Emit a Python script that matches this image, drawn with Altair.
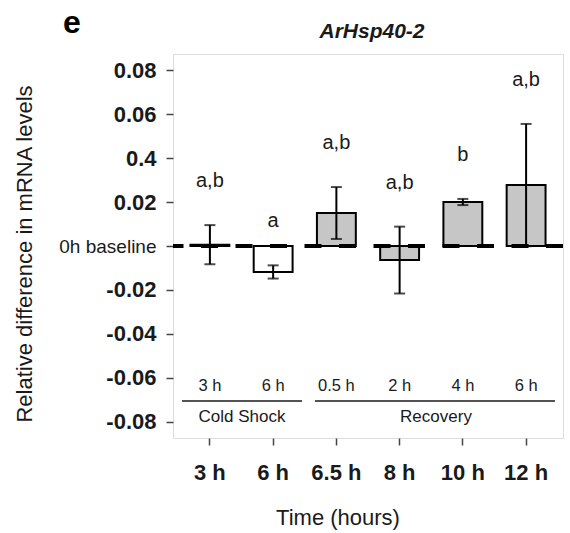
import altair as alt
import pandas as pd

# ---- data ----
times = ["3 h", "6 h", "6.5 h", "8 h", "10 h", "12 h"]
means = [0.0006, -0.0118, 0.0150, -0.0064, 0.0200, 0.0277]
errors = [0.0089, 0.0030, 0.0118, 0.0152, 0.0014, 0.0278]
letters = ["a,b", "a", "a,b", "a,b", "b", "a,b"]
phase_times = ["3 h", "6 h", "0.5 h", "2 h", "4 h", "6 h"]
phases = ["Cold Shock", "Recovery"]
y_ticks = [-0.08, -0.06, -0.04, -0.02, 0.0, 0.02, 0.04, 0.06, 0.08]

df = pd.DataFrame({
    "time": times,
    "mean": means,
    "err": errors,
    "letter": letters,
    "phase_time": phase_times,
})
df["lo"] = df["mean"] - df["err"]
df["hi"] = df["mean"] + df["err"]

FONT = "Liberation Sans"
TXT = "#1a1a1a"

x_enc = alt.X(
    "time:N",
    sort=times,
    scale=alt.Scale(paddingInner=0.385, paddingOuter=0.276),
    axis=alt.Axis(
        title=None, labelAngle=0, labelFont=FONT, labelFontSize=22,
        labelFontWeight="bold", labelColor=TXT, tickSize=7, tickWidth=1.5,
        tickColor="#444", domain=False, labelPadding=17,
    ),
)

label_expr = (
    "datum.value == 0 ? '0h baseline' : "
    "(abs(datum.value - 0.04) < 1e-9 ? '0.4' : "
    "((datum.value < 0 ? '-' : '') + format(abs(datum.value), '.2f')))"
)

y_scale = alt.Scale(domain=[-0.0873, 0.0873], nice=False, zero=False)
y_enc = alt.Y(
    "mean:Q",
    scale=y_scale,
    stack=None,
    axis=alt.Axis(
        values=y_ticks, title=None, grid=False, domain=False,
        labelExpr=label_expr, labelFont=FONT, labelColor=TXT,
        labelFontSize={"condition": {"test": "datum.value == 0", "value": 19}, "value": 22},
        labelFontWeight={"condition": {"test": "datum.value == 0", "value": "normal"}, "value": "bold"},
        tickSize=7, tickWidth=1.5, tickColor="#444", labelPadding=10,
    ),
)

base = alt.Chart(df)

bars = base.mark_bar(stroke="black", strokeWidth=2).encode(
    x=x_enc,
    y=y_enc,
    fill=alt.condition(alt.datum.time == "6 h", alt.value("white"), alt.value("#c6c6c6")),
)

baseline = alt.Chart(pd.DataFrame({"v": [0.0]})).mark_rule(
    strokeDash=[17, 17.5], strokeWidth=4, color="black"
).encode(y=alt.Y("v:Q", scale=y_scale))

err_rule = base.mark_rule(strokeWidth=2, color="black").encode(
    x=alt.X("time:N", sort=times), y=alt.Y("lo:Q", scale=y_scale), y2="hi:Q"
)
cap_hi = base.mark_tick(size=11, thickness=2, color="black").encode(
    x=alt.X("time:N", sort=times), y=alt.Y("hi:Q", scale=y_scale)
)
cap_lo = base.mark_tick(size=11, thickness=2, color="black").encode(
    x=alt.X("time:N", sort=times), y=alt.Y("lo:Q", scale=y_scale)
)

letter_text = base.mark_text(
    font=FONT, fontSize=20, color=TXT, baseline="middle", dy=-44
).encode(x=alt.X("time:N", sort=times), y=alt.Y("hi:Q", scale=y_scale), text="letter:N")

phase_time_text = base.mark_text(
    font=FONT, fontSize=16.5, color=TXT, baseline="middle"
).encode(x=alt.X("time:N", sort=times), y=alt.value(332), text="phase_time:N")

one = pd.DataFrame({"k": [0]})
line_cold = alt.Chart(one).mark_rule(color=TXT, strokeWidth=1.5).encode(
    x=alt.value(9), x2=alt.value(129), y=alt.value(347)
)
line_rec = alt.Chart(one).mark_rule(color=TXT, strokeWidth=1.5).encode(
    x=alt.value(142), x2=alt.value(382), y=alt.value(347)
)
phase_df = pd.DataFrame({"phase": phases})
cold_text = alt.Chart(pd.DataFrame({"phase": [phases[0]]})).mark_text(
    font=FONT, fontSize=17, color=TXT, baseline="middle"
).encode(x=alt.value(69), y=alt.value(363), text="phase:N")
rec_text = alt.Chart(pd.DataFrame({"phase": [phases[1]]})).mark_text(
    font=FONT, fontSize=17, color=TXT, baseline="middle"
).encode(x=alt.value(263), y=alt.value(363), text="phase:N")

title_text = alt.Chart(pd.DataFrame({"t": ["ArHsp40-2"]})).mark_text(
    font=FONT, fontSize=21, fontWeight="bold", fontStyle="italic", color=TXT, baseline="middle"
).encode(x=alt.value(199), y=alt.value(-22), text="t:N")
panel_text = alt.Chart(pd.DataFrame({"t": ["e"]})).mark_text(
    font=FONT, fontSize=32, fontWeight="bold", color="black", baseline="middle"
).encode(x=alt.value(-101), y=alt.value(-31), text="t:N")
xtitle = alt.Chart(pd.DataFrame({"t": ["Time (hours)"]})).mark_text(
    font=FONT, fontSize=22, color=TXT, baseline="middle"
).encode(x=alt.value(165), y=alt.value(464), text="t:N")
ytitle = alt.Chart(pd.DataFrame({"t": ["Relative difference in mRNA levels"]})).mark_text(
    font=FONT, fontSize=22, color=TXT, baseline="middle", angle=270
).encode(x=alt.value(-148), y=alt.value(200), text="t:N")

chart = alt.layer(
    bars, baseline, err_rule, cap_hi, cap_lo, letter_text, phase_time_text,
    line_cold, line_rec, cold_text, rec_text, title_text, panel_text, xtitle, ytitle,
).properties(
    width=390, height=384, autosize="none",
    padding={"left": 173, "top": 54, "right": 7, "bottom": 95},
).configure_view(stroke="#555", strokeWidth=1.5).configure(background="white")

chart.save("out.html", embed_options={"renderer": "svg", "actions": False})
